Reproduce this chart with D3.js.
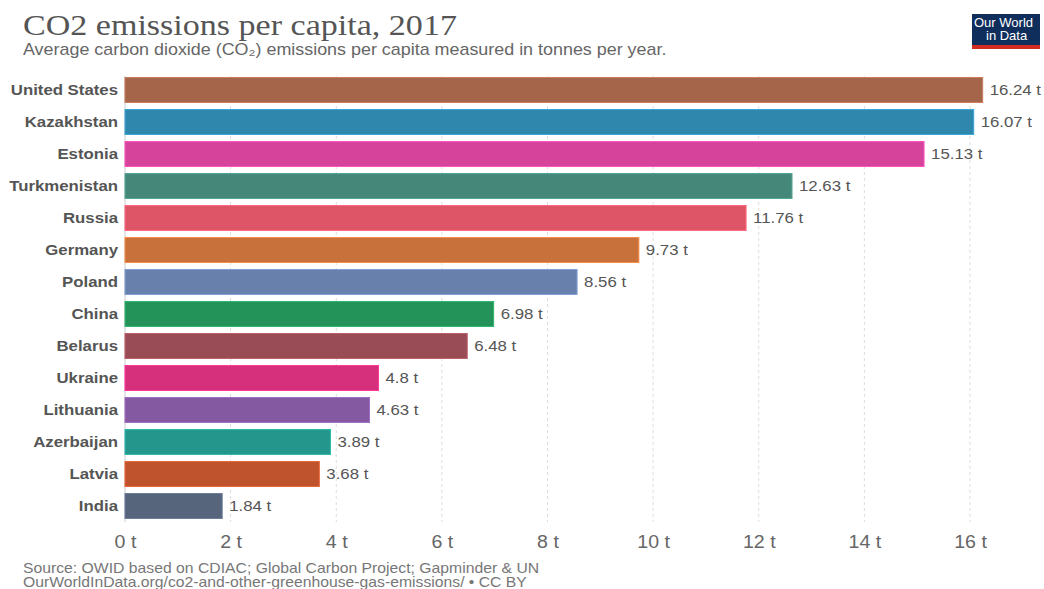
<!DOCTYPE html>
<html>
<head>
<meta charset="utf-8">
<script src="https://cdn.jsdelivr.net/npm/d3@7"></script>
<style>
  body { margin: 0; background: #fff; }
  svg { display: block; }
</style>
</head>
<body>
<svg id="chart" width="1044" height="589"></svg>
<script>
// datos del gráfico
const countries = ['United States', 'Kazakhstan', 'Estonia', 'Turkmenistan', 'Russia', 'Germany', 'Poland',
  'China', 'Belarus', 'Ukraine', 'Lithuania', 'Azerbaijan', 'Latvia', 'India'];
const values = [16.24, 16.07, 15.13, 12.63, 11.76, 9.73, 8.56, 6.98, 6.48, 4.8, 4.63, 3.89, 3.68, 1.84];
const colors = ['#a5654a', '#2f87ad', '#d5449a', '#458879', '#df5568', '#c8713b', '#6880ac',
  '#24935a', '#994c55', '#d62f7c', '#8459a1', '#24968c', '#be532d', '#56657c'];
const ticks = [0, 2, 4, 6, 8, 10, 12, 14, 16];
const sourceLines = ['Source: OWID based on CDIAC; Global Carbon Project; Gapminder & UN',
  'OurWorldInData.org/co2-and-other-greenhouse-gas-emissions/ • CC BY'];

const svg = d3.select('#chart');
const SX = 1.12; // el texto del original está algo ensanchado
const sans = '"Liberation Sans", Arial, sans-serif';

// convierte x,y en transform con escala horizontal
function stretch(sel, sx) {
  sel.each(function () {
    const t = d3.select(this);
    const x = +t.attr('x') || 0, y = +t.attr('y') || 0;
    t.attr('x', 0).attr('y', 0).attr('transform', `translate(${x},${y}) scale(${sx},1)`);
  });
}

// escalas
const x = d3.scaleLinear().domain([0, 16]).range([125, 970]);
const y = d3.scaleBand().domain(countries).range([74, 522]).paddingInner(0.22).paddingOuter(0.11);

// título y subtítulo
svg.append('text')
  .attr('x', 23).attr('y', 35)
  .style('font-family', '"Liberation Serif", "DejaVu Serif", serif')
  .style('font-size', '30px')
  .style('fill', '#555')
  .text('CO2 emissions per capita, 2017')
  .call(stretch, 1.135);

svg.append('text')
  .attr('x', 23).attr('y', 55)
  .style('font-family', sans)
  .style('font-size', '16px')
  .style('fill', '#666')
  .text('Average carbon dioxide (CO₂) emissions per capita measured in tonnes per year.')
  .call(stretch, SX);

// logo
const logo = svg.append('g').attr('transform', 'translate(972,14)');
logo.append('rect').attr('width', 68).attr('height', 35).attr('fill', '#0f2e5b');
logo.append('rect').attr('y', 31).attr('width', 68).attr('height', 4).attr('fill', '#d42b21');
logo.selectAll('text.logo')
  .data(['Our World', 'in Data'])
  .enter().append('text')
  .attr('class', 'logo')
  .attr('x', (d, i) => i === 0 ? 2 : 14)
  .attr('y', (d, i) => 13 + i * 13)
  .style('font-family', sans)
  .style('font-size', '13px')
  .style('fill', '#fff')
  .text(d => d);

// líneas de cuadrícula
svg.append('g')
  .selectAll('line')
  .data(ticks.filter(d => d > 0))
  .enter().append('line')
  .attr('x1', d => x(d)).attr('x2', d => x(d))
  .attr('y1', 76).attr('y2', 522)
  .attr('stroke', '#ddd')
  .attr('stroke-dasharray', '3,3');

svg.append('line')
  .attr('x1', x(0)).attr('x2', x(0))
  .attr('y1', 76).attr('y2', 522)
  .attr('stroke', '#ccc');

// barras
const data = countries.map((c, i) => ({ name: c, value: values[i], color: colors[i] }));

svg.append('g')
  .selectAll('rect')
  .data(data)
  .enter().append('rect')
  .attr('x', x(0))
  .attr('y', d => y(d.name))
  .attr('width', d => x(d.value) - x(0))
  .attr('height', y.bandwidth())
  .attr('fill', d => d.color)
  .attr('stroke', d => d3.color(d.color).brighter(0.6))
  .attr('stroke-width', 1);

// etiquetas de países
svg.append('g')
  .selectAll('text')
  .data(data)
  .enter().append('text')
  .attr('x', 118)
  .attr('y', d => y(d.name) + y.bandwidth() / 2 + 5)
  .attr('text-anchor', 'end')
  .style('font-family', sans)
  .style('font-size', '15px')
  .style('font-weight', 'bold')
  .style('fill', '#555')
  .text(d => d.name)
  .call(stretch, SX);

// valores
svg.append('g')
  .selectAll('text')
  .data(data)
  .enter().append('text')
  .attr('x', d => x(d.value) + 7)
  .attr('y', d => y(d.name) + y.bandwidth() / 2 + 5)
  .style('font-family', sans)
  .style('font-size', '15px')
  .style('fill', '#555')
  .text(d => d.value + ' t')
  .call(stretch, SX);

// eje X
const axis = svg.append('g')
  .attr('transform', 'translate(0,530)')
  .call(d3.axisBottom(x).tickValues(ticks).tickFormat(d => d + ' t').tickSize(0));
axis.select('.domain').remove();
axis.selectAll('text')
  .attr('dy', '0.85em')
  .attr('transform', `scale(${SX},1)`)
  .attr('x', 0)
  .style('font-family', sans)
  .style('font-size', '17.5px')
  .style('fill', '#666');

// fuente
svg.append('g')
  .selectAll('text')
  .data(sourceLines)
  .enter().append('text')
  .attr('x', 23)
  .attr('y', (d, i) => 573 + i * 14)
  .style('font-family', sans)
  .style('font-size', '14px')
  .style('fill', '#777')
  .text(d => d)
  .call(stretch, 1.125);
</script>
</body>
</html>
